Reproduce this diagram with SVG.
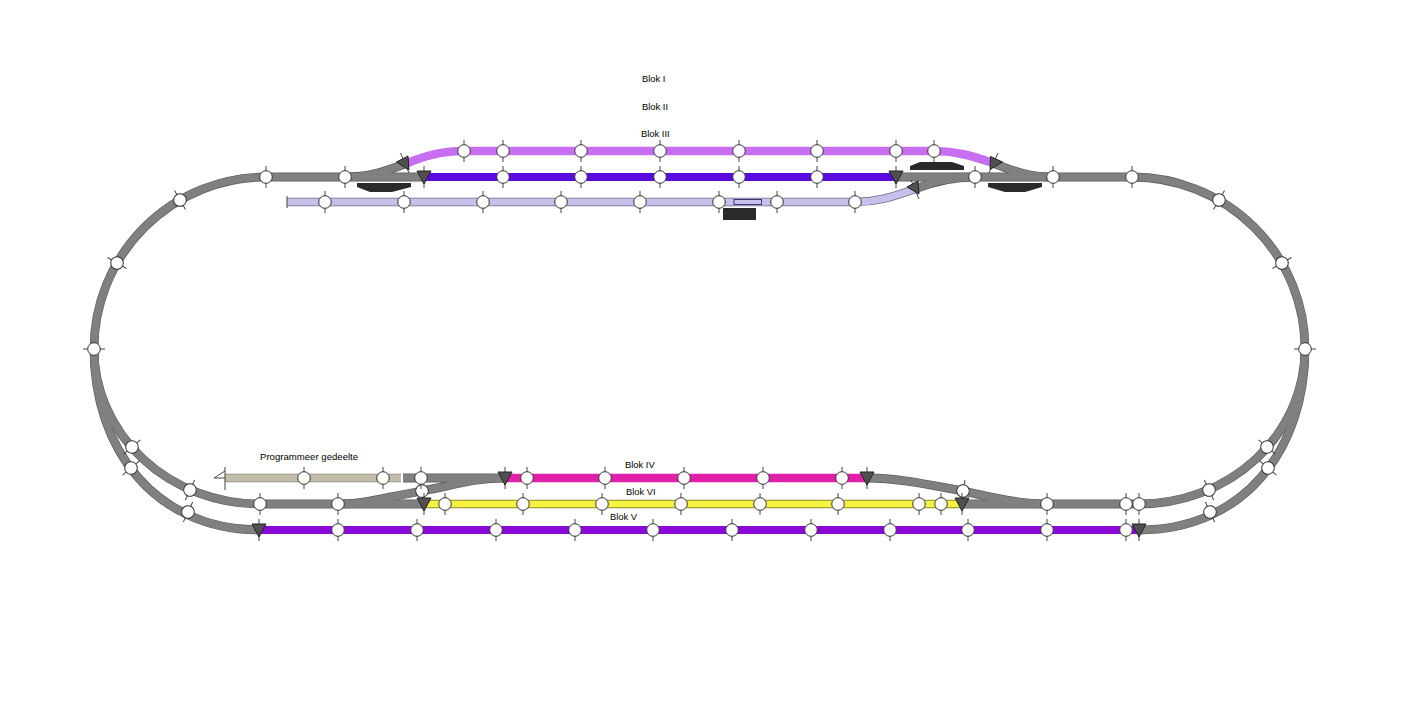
<svg xmlns="http://www.w3.org/2000/svg" width="1402" height="702" viewBox="0 0 1402 702">
<style>
text{font-family:"Liberation Sans",Arial,sans-serif;font-size:9.400px;fill:#000}
.t{fill:none;stroke-linecap:butt}
.g{stroke:#808080;stroke-width:7.500}
.go{stroke:#5c5c5c;stroke-width:8.800}
.tick{stroke:#444;stroke-width:1;fill:none}
.c{fill:#fff;stroke:#333;stroke-width:1}
.tri{fill:#505050;stroke:#222;stroke-width:1}
.blk{fill:#2a2a2a}
</style>
<defs>
<g id="s"><path class="tick" d="M0-11V11"/><circle class="c" r="6.300"/></g>
<g id="d"><path class="tick" d="M0-11V11"/><polygon class="tri" points="-7,-6 7,-6 0,7"/></g>
</defs>
<rect width="1402" height="702" fill="#fff"/>
<g id="connectors" class="t">
<g class="go">
<path d="M94 349A172 172 0 0 1 266 177H424M896 177H1132A173 172 0 0 1 1305 349"/>
<path d="M94 349A166 155 0 0 0 260 504H424M962 504H1139A166 155 0 0 0 1305 349"/>
<path d="M94 349C94 449 155 530 260 530M1139 530C1244 530 1305 449 1305 349"/>
<path d="M345 177C372 177 388 170 405 164M993 163C1011 170 1028 177 1053 177M915 189C932 182 950 177 975 177"/>
<path d="M403 478H505M338 504C365 504 382 498 422 491C455 485 475 478 505 478M867 478C900 478 930 485 963 491C995 498 1020 504 1047 504"/>
</g>
<g class="g">
<path d="M94 349A172 172 0 0 1 266 177H424M896 177H1132A173 172 0 0 1 1305 349"/>
<path d="M94 349A166 155 0 0 0 260 504H424M962 504H1139A166 155 0 0 0 1305 349"/>
<path d="M94 349C94 449 155 530 260 530M1139 530C1244 530 1305 449 1305 349"/>
<path d="M345 177C372 177 388 170 405 164M993 163C1011 170 1028 177 1053 177M915 189C932 182 950 177 975 177"/>
<path d="M403 478H505M338 504C365 504 382 498 422 491C455 485 475 478 505 478M867 478C900 478 930 485 963 491C995 498 1020 504 1047 504"/>
</g>
<path d="M405 164C422 157 440 151 464 151H934C958 151 975 157 993 163" stroke="#c86ef0" stroke-width="8.500"/>
<path d="M424 177H896" stroke="#5a0ce0" stroke-width="8"/>
<path d="M287 202H855C880 202 897 195 915 189" stroke="#6e6a86" stroke-width="8.500"/>
<path d="M287 202H855C880 202 897 195 915 189" stroke="#c6c0ea" stroke-width="7"/>
<path d="M225 478H401" stroke="#8a8678" stroke-width="8.500"/>
<path d="M225 478H401" stroke="#c4bdaa" stroke-width="7"/>
<path d="M505 478H867" stroke="#e020a8" stroke-width="8.500"/>
<path d="M424 504H962" stroke="#8a8a30" stroke-width="8.500"/>
<path d="M424 504H962" stroke="#f6f240" stroke-width="6.500"/>
<path d="M259 530H1139" stroke="#8a08d8" stroke-width="8"/>
<path class="tick" d="M287 196V208M225 467V490M225 478H214L225 471"/>
</g>
<g id="blocks">
<polygon class="blk" points="357,183 411,183 411,187 392,192 370,192 357,187"/>
<polygon class="blk" points="910,166 920,162 952,162 964,166 964,170 910,170"/>
<polygon class="blk" points="988,183 1042,183 1042,187 1025,192 1005,192 988,187"/>
<rect class="blk" x="723" y="208" width="33" height="12"/>
<rect x="734" y="199.500" width="27.500" height="5" fill="#c6c0ea" stroke="#3c3670" stroke-width="1"/>
</g>
<g id="sections-top">
<use href="#s" x="266" y="177"/><use href="#s" x="345" y="177"/><use href="#s" x="503" y="177"/><use href="#s" x="581" y="177"/><use href="#s" x="660" y="177"/><use href="#s" x="739" y="177"/><use href="#s" x="817" y="177"/><use href="#s" x="975" y="177"/><use href="#s" x="1053" y="177"/><use href="#s" x="1132" y="177"/>
<use href="#s" x="464" y="151"/><use href="#s" x="503" y="151"/><use href="#s" x="581" y="151"/><use href="#s" x="660" y="151"/><use href="#s" x="739" y="151"/><use href="#s" x="817" y="151"/><use href="#s" x="896" y="151"/><use href="#s" x="934" y="151"/>
<use href="#s" x="325" y="202"/><use href="#s" x="404" y="202"/><use href="#s" x="483" y="202"/><use href="#s" x="561" y="202"/><use href="#s" x="640" y="202"/><use href="#s" x="719" y="202"/><use href="#s" x="777" y="202"/><use href="#s" x="855" y="202"/>
</g>
<g id="sections-curves">
<use href="#s" transform="translate(180 200) rotate(-30)"/><use href="#s" transform="translate(117 263) rotate(-60)"/><use href="#s" transform="translate(94 349) rotate(90)"/>
<use href="#s" transform="translate(1219 200) rotate(30)"/><use href="#s" transform="translate(1282 263) rotate(60)"/><use href="#s" transform="translate(1305 349) rotate(90)"/>
<use href="#s" transform="translate(132 447) rotate(50)"/><use href="#s" transform="translate(131 468) rotate(50)"/><use href="#s" transform="translate(190 490) rotate(25)"/><use href="#s" transform="translate(188 512) rotate(25)"/>
<use href="#s" transform="translate(1267 447) rotate(-50)"/><use href="#s" transform="translate(1268 468) rotate(-50)"/><use href="#s" transform="translate(1209 490) rotate(-25)"/><use href="#s" transform="translate(1210 512) rotate(-25)"/>
</g>
<g id="sections-bottom">
<use href="#s" transform="translate(422 491) rotate(-8)"/><use href="#s" transform="translate(963 491) rotate(10)"/>
<use href="#s" x="304" y="478"/><use href="#s" x="383" y="478"/><use href="#s" x="421" y="478"/><use href="#s" x="527" y="478"/><use href="#s" x="605" y="478"/><use href="#s" x="684" y="478"/><use href="#s" x="763" y="478"/><use href="#s" x="842" y="478"/>
<use href="#s" x="260" y="504"/><use href="#s" x="338" y="504"/><use href="#s" x="445" y="504"/><use href="#s" x="523" y="504"/><use href="#s" x="602" y="504"/><use href="#s" x="681" y="504"/><use href="#s" x="760" y="504"/><use href="#s" x="838" y="504"/><use href="#s" x="919" y="504"/><use href="#s" x="941" y="504"/><use href="#s" x="1047" y="504"/><use href="#s" x="1126" y="504"/><use href="#s" x="1139" y="504"/>
<use href="#s" x="338" y="530"/><use href="#s" x="417" y="530"/><use href="#s" x="496" y="530"/><use href="#s" x="575" y="530"/><use href="#s" x="653" y="530"/><use href="#s" x="732" y="530"/><use href="#s" x="811" y="530"/><use href="#s" x="890" y="530"/><use href="#s" x="968" y="530"/><use href="#s" x="1047" y="530"/><use href="#s" x="1126" y="530"/>
</g>
<g id="signals">
<use href="#d" x="424" y="177"/><use href="#d" x="896" y="177"/><use href="#d" x="259" y="530"/><use href="#d" x="505" y="478"/><use href="#d" x="867" y="478"/><use href="#d" x="424" y="504"/><use href="#d" x="962" y="504"/><use href="#d" x="1139" y="530"/>
<path class="tick" d="M400.500 153L409 173M911 180L919 199M998 153L989 173"/>
<polygon class="tri" points="396.500,162 408,156 409,170"/>
<polygon class="tri" points="907,187 918,181 919,194"/>
<polygon class="tri" points="990.500,156.500 1002.500,162 990,169.500"/>
</g>
<g id="labels">
<text x="642" y="82">Blok I</text>
<text x="642" y="110">Blok II</text>
<text x="641" y="137">Blok III</text>
<text x="625" y="468">Blok IV</text>
<text x="626" y="495">Blok VI</text>
<text x="610" y="520">Blok V</text>
<text x="260" y="460" style="font-size:9.600px">Programmeer gedeelte</text>
</g>
</svg>
